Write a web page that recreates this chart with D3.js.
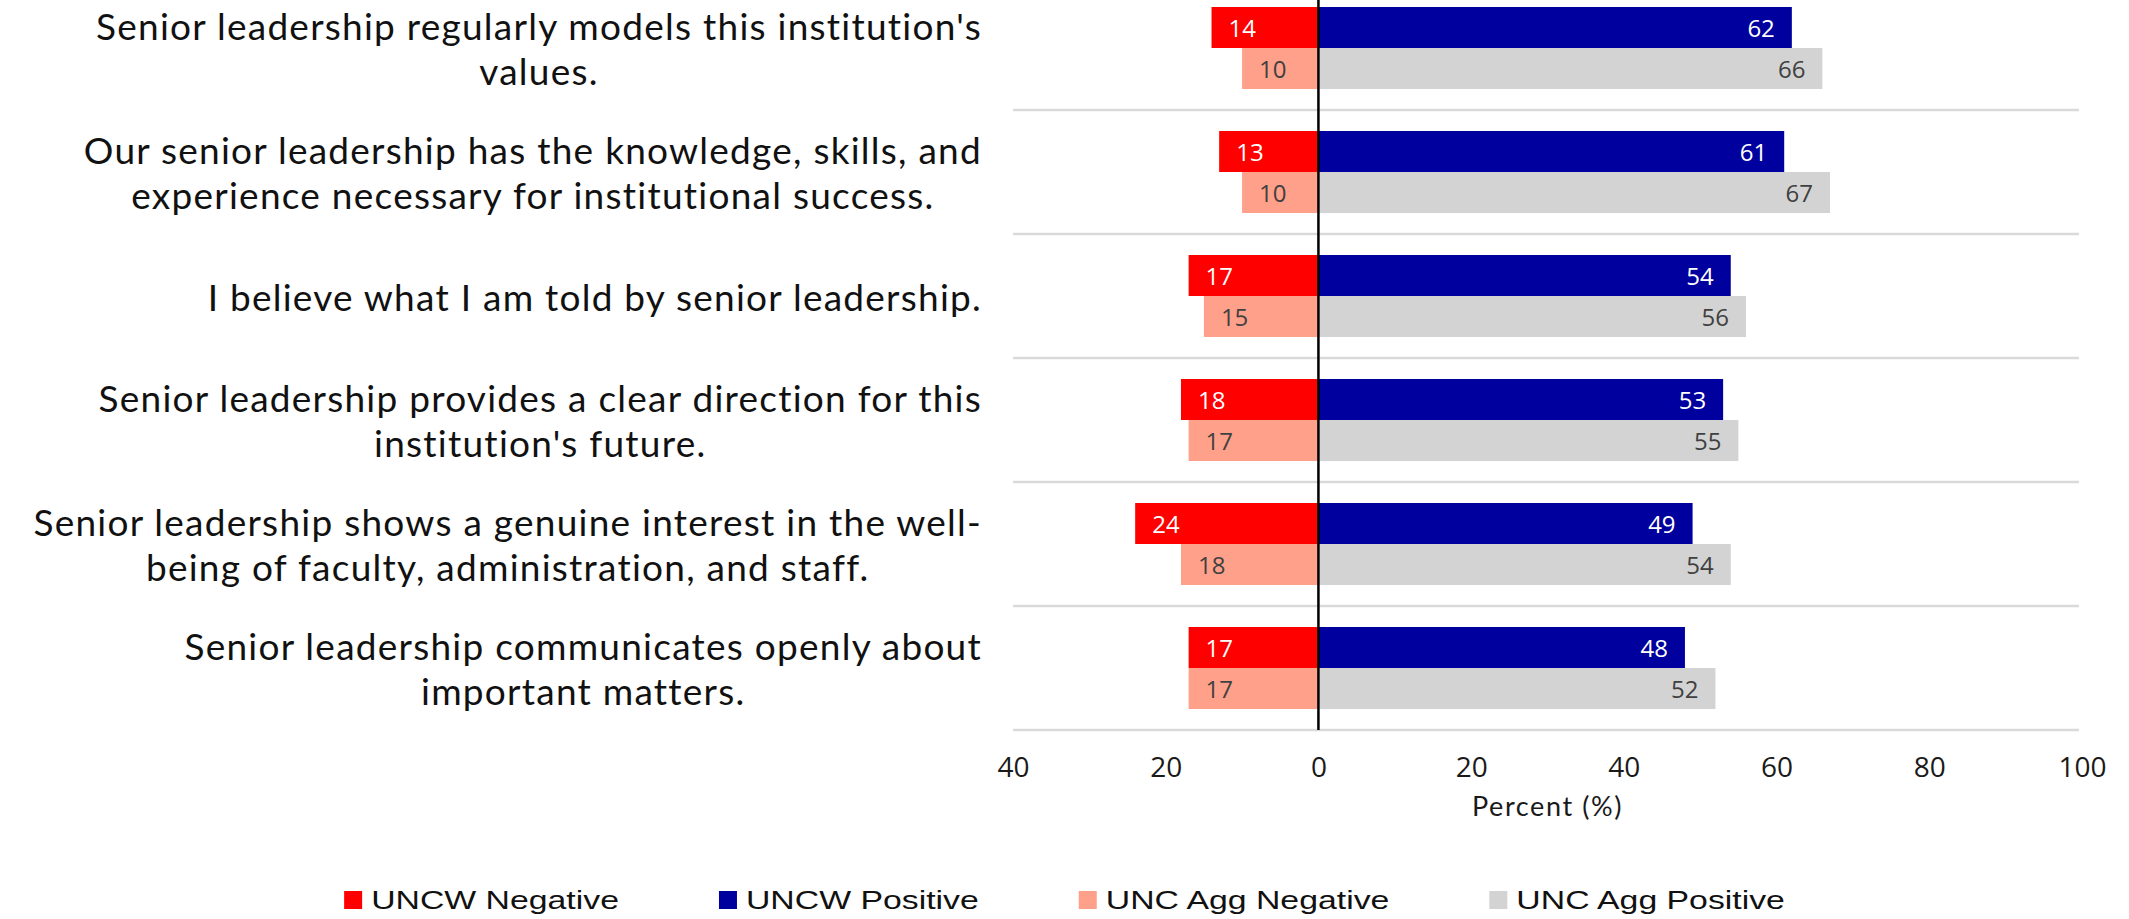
<!DOCTYPE html>
<html>
<head>
<meta charset="utf-8">
<script src="https://cdn.jsdelivr.net/npm/d3@7"></script>
<style>
  body { margin: 0; background: #fff; }
  svg { display: block; }
</style>
</head>
<body>
<svg id="chart" width="2129" height="919"></svg>
<script>
// Survey items, top to bottom, with their wrapped lines
const categories = [
  "Senior leadership regularly models this institution's values.",
  "Our senior leadership has the knowledge, skills, and experience necessary for institutional success.",
  "I believe what I am told by senior leadership.",
  "Senior leadership provides a clear direction for this institution's future.",
  "Senior leadership shows a genuine interest in the well-being of faculty, administration, and staff.",
  "Senior leadership communicates openly about important matters."
];
const categoryLines = [
  ["Senior leadership regularly models this institution's", "values."],
  ["Our senior leadership has the knowledge, skills, and", "experience necessary for institutional success."],
  ["I believe what I am told by senior leadership."],
  ["Senior leadership provides a clear direction for this", "institution's future."],
  ["Senior leadership shows a genuine interest in the well-", "being of faculty, administration, and staff."],
  ["Senior leadership communicates openly about", "important matters."]
];

// Percent of respondents
const uncwNegative = [14, 13, 17, 18, 24, 17];
const uncwPositive = [62, 61, 54, 53, 49, 48];
const aggNegative  = [10, 10, 15, 17, 18, 17];
const aggPositive  = [66, 67, 56, 55, 54, 52];

const xTicks = [-40, -20, 0, 20, 40, 60, 80, 100];
const seriesNames = ["UNCW Negative", "UNCW Positive", "UNC Agg Negative", "UNC Agg Positive"];
const seriesColors = ["#FF0000", "#00009E", "#FFA08A", "#D3D3D3"];
const labelColors = ["#FFFFFF", "#FFFFFF", "#404040", "#404040"];
const groups = ["UNCW", "UNC Agg"];

const W = 2129, H = 919;
const plot = { left: 1013, right: 2082, top: -14, bottom: 730 };

const svg = d3.select("#chart");

const x = d3.scaleLinear().domain([-40, 100]).range([plot.left, plot.right]);
const y = d3.scaleBand().domain(categories).range([plot.top, plot.bottom]).padding(0);
const yInner = d3.scaleBand().domain(groups).range([0, y.bandwidth()])
  .paddingInner(0).paddingOuter(0.512);

// Separator lines between items
svg.append("g")
  .selectAll("line")
  .data(categories)
  .join("line")
  .attr("x1", plot.left)
  .attr("x2", plot.right - 3)
  .attr("y1", d => y(d) + y.bandwidth())
  .attr("y2", d => y(d) + y.bandwidth())
  .attr("stroke", "#D9D9D9")
  .attr("stroke-width", 2.5);

// Bars: one row per group, negative to the left of zero, positive to the right
const rows = [];
categories.forEach((c, i) => {
  rows.push({ cat: c, group: "UNCW", neg: uncwNegative[i], pos: uncwPositive[i], ni: 0, pi: 1 });
  rows.push({ cat: c, group: "UNC Agg", neg: aggNegative[i], pos: aggPositive[i], ni: 2, pi: 3 });
});

const bars = svg.append("g");
const labelFont = "'Segoe UI', 'Open Sans', sans-serif";
rows.forEach(r => {
  const y0 = y(r.cat) + yInner(r.group);
  const h = yInner.bandwidth();
  bars.append("rect")
    .attr("x", x(-r.neg)).attr("y", y0)
    .attr("width", x(0) - x(-r.neg)).attr("height", h)
    .attr("fill", seriesColors[r.ni]);
  bars.append("rect")
    .attr("x", x(0)).attr("y", y0)
    .attr("width", x(r.pos) - x(0)).attr("height", h)
    .attr("fill", seriesColors[r.pi]);

  bars.append("text")
    .attr("x", x(-r.neg) + 17).attr("y", y0 + h / 2)
    .attr("dominant-baseline", "central")
    .attr("text-anchor", "start")
    .attr("font-family", labelFont).attr("font-size", 24)
    .attr("fill", labelColors[r.ni])
    .text(r.neg);
  bars.append("text")
    .attr("x", x(r.pos) - 17).attr("y", y0 + h / 2)
    .attr("dominant-baseline", "central")
    .attr("text-anchor", "end")
    .attr("font-family", labelFont).attr("font-size", 24)
    .attr("fill", labelColors[r.pi])
    .text(r.pos);
});

// Zero line
svg.append("line")
  .attr("x1", x(0)).attr("x2", x(0))
  .attr("y1", plot.top).attr("y2", plot.bottom)
  .attr("stroke", "#000").attr("stroke-width", 2.5);

// X axis
const xAxis = svg.append("g")
  .attr("transform", `translate(0,${plot.bottom})`)
  .call(d3.axisBottom(x).tickValues(xTicks).tickFormat(d => Math.abs(d)).tickSize(0).tickPadding(27));
xAxis.select(".domain").remove();
xAxis.selectAll("text")
  .attr("font-family", labelFont)
  .attr("font-size", 28)
  .attr("fill", "#1A1A1A");

svg.append("text")
  .attr("x", (plot.left + plot.right) / 2)
  .attr("y", 805)
  .attr("text-anchor", "middle")
  .attr("dominant-baseline", "central")
  .attr("font-family", "'Century Gothic', Lato, sans-serif")
  .attr("font-size", 27)
  .attr("letter-spacing", 1.6)
  .attr("fill", "#1A1A1A")
  .text("Percent (%)");

// Item labels, lines centred on each other, block right-aligned to the plot
const catFont = "'Century Gothic', Lato, sans-serif";
const catSize = 37;
const catSpacing = 1.25;
const lineH = 45;
const labelRight = 982;
categoryLines.forEach((lines, i) => {
  const g = svg.append("g");
  const cy = y(categories[i]) + y.bandwidth() / 2;
  const texts = lines.map((ln, j) => g.append("text")
    .attr("y", cy + (j - (lines.length - 1) / 2) * lineH)
    .attr("dominant-baseline", "central")
    .attr("text-anchor", "middle")
    .attr("font-family", catFont)
    .attr("font-size", catSize)
    .attr("letter-spacing", catSpacing)
    .attr("fill", "#111")
    .text(ln));
  const maxW = d3.max(texts, t => t.node().getComputedTextLength());
  texts.forEach(t => t.attr("x", labelRight - maxW / 2));
});

// Legend, centred across the page
const legendY = 900;
const sw = 18, swGap = 9, itemGap = 100, stretch = 1.3;
const legend = svg.append("g");
const items = seriesNames.map((name, i) => {
  const g = legend.append("g");
  g.append("rect").attr("x", 0).attr("y", -sw / 2).attr("width", sw).attr("height", sw)
    .attr("fill", seriesColors[i]);
  const t = g.append("text")
    .attr("transform", `translate(${sw + swGap},0) scale(${stretch},1)`)
    .attr("dominant-baseline", "central")
    .attr("font-family", "Arial, 'Liberation Sans', sans-serif")
    .attr("font-size", 26)
    .attr("fill", "#111")
    .text(name);
  const w = sw + swGap + t.node().getComputedTextLength() * stretch;
  return { g, w };
});
const totalW = d3.sum(items, d => d.w) + itemGap * (items.length - 1);
let cx = W / 2 - totalW / 2;
items.forEach(it => {
  it.g.attr("transform", `translate(${cx},${legendY})`);
  cx += it.w + itemGap;
});
</script>
</body>
</html>
